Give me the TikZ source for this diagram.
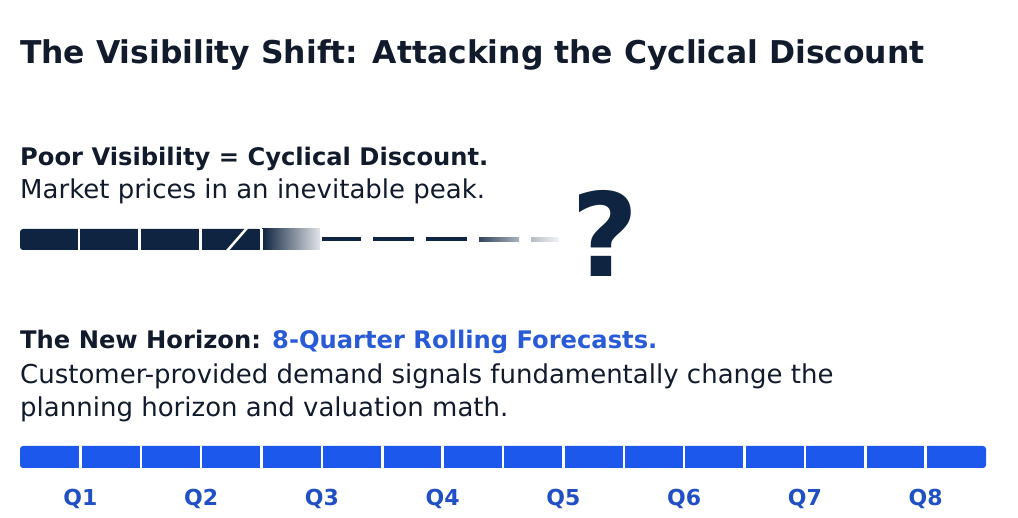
\documentclass[tikz,border=0pt]{standalone}
\usepackage{fontspec}
\setmainfont{DejaVu Sans}
\usetikzlibrary{positioning}
\definecolor{navy}{HTML}{0F2440}
\definecolor{ink}{HTML}{111B2C}
\definecolor{barblue}{HTML}{1D58EC}
\definecolor{qblue}{HTML}{2150C4}
\definecolor{fcblue}{HTML}{2A5BD6}
\tikzstyle{heading} = [anchor=base west, inner sep=0pt, text=ink, font=\fontsize{31.4}{36}\selectfont\bfseries]
\tikzstyle{lead} = [anchor=base west, inner sep=0pt, text=ink, font=\fontsize{24.2}{30}\selectfont\bfseries]
\tikzstyle{body} = [anchor=base west, inner sep=0pt, text=ink, font=\fontsize{26}{30}\selectfont]
\tikzstyle{quarter} = [anchor=base, inner sep=0pt, text=qblue, font=\fontsize{22}{24}\selectfont\bfseries]
\tikzstyle{gap} = [white, line width=2.5pt]

\begin{document}
\begin{tikzpicture}[x=1pt, y=-1pt]
	\useasboundingbox (0, 0) rectangle (1018, 518);

	\node (Title) [heading] at (20, 64) {The Visibility Shift: Attacking the Cyclical Discount};

	\node (PoorHead) [lead] at (20, 166) {Poor Visibility = Cyclical Discount.};
	\node (PoorText) [body] at (20, 199) {Market prices in an inevitable peak.};

	% broken bar, fading into dashes
	\fill [navy, rounded corners=3] (20, 229) rectangle (262, 250);
	\shade [left color=navy, right color=navy!12] (262, 229) rectangle (320, 250);
	\draw [gap] (79, 229) -- (79, 250);
	\draw [gap] (139.5, 229) -- (139.5, 250);
	\draw [gap] (200.5, 229) -- (200.5, 250);
	\draw [gap] (261.5, 229) -- (261.5, 250);
	\draw [gap] (227, 251) -- (247, 228);

	\fill [navy] (322, 237.5) rectangle (361, 241.5);
	\fill [navy] (373, 237.5) rectangle (414, 241.5);
	\fill [navy] (426, 237.5) rectangle (467, 241.5);
	\shade [left color=navy!85, right color=navy!35] (479, 237.5) rectangle (519, 241.5);
	\shade [left color=navy!30, right color=navy!5] (531, 237.5) rectangle (559, 241.5);

	\node (Unknown) [anchor=base, inner sep=0pt, text=navy, font=\fontsize{116}{120}\selectfont\bfseries] at (605, 277) {?};

	\node (NewHead) [lead] at (20, 349) {The New Horizon: \textcolor{fcblue}{8-Quarter Rolling Forecasts.}};
	\node (NewText1) [body] at (20, 384) {Customer-provided demand signals fundamentally change the};
	\node (NewText2) [body] at (20, 417) {planning horizon and valuation math.};

	% eight quarters, two blocks each
	\fill [barblue, rounded corners=3] (20, 446) rectangle (986, 468);
	\foreach \i in {1,...,15}
		\draw [gap] ({20 + \i*60.375}, 446) -- ({20 + \i*60.375}, 468);

	\node (Q1) [quarter] at (80.4, 505) {Q1};
	\node (Q2) [quarter] at (201.1, 505) {Q2};
	\node (Q3) [quarter] at (321.9, 505) {Q3};
	\node (Q4) [quarter] at (442.6, 505) {Q4};
	\node (Q5) [quarter] at (563.4, 505) {Q5};
	\node (Q6) [quarter] at (684.1, 505) {Q6};
	\node (Q7) [quarter] at (804.9, 505) {Q7};
	\node (Q8) [quarter] at (925.6, 505) {Q8};

\end{tikzpicture}
\end{document}
